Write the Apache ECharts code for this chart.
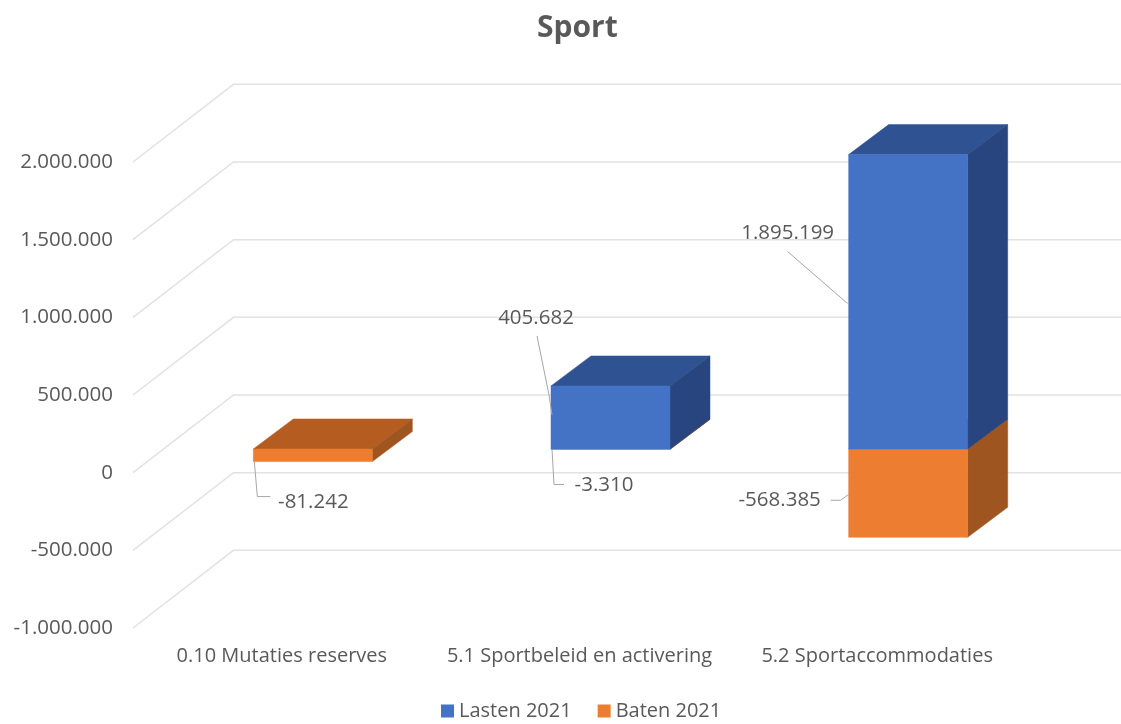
<!DOCTYPE html>
<html>
<head>
<meta charset="utf-8">
<title>Sport</title>
<script src="https://cdn.jsdelivr.net/npm/echarts@6/dist/echarts.min.js"></script>
<style>
  html, body { margin: 0; padding: 0; background: #fff; }
  #chartBox { width: 1121px; height: 724px; }
</style>
</head>
<body>
<div id="chartBox"></div>
<script>
const categories = ["0.10 Mutaties reserves", "5.1 Sportbeleid en activering", "5.2 Sportaccommodaties"];
const lasten = [0, 405682, 1895199];
const baten = [-81242, -3310, -568385];
const yTicks = [-1000000, -500000, 0, 500000, 1000000, 1500000, 2000000];

// fake 3d: where the back wall sits, where the bars sit in depth, how deep they are
const wallShift = [100.5, -77.7];
const barShift = [31, -23.7];
const barDepth = [40, -30];
const barWidth = 119;

// text centre and leader points, relative to the bar's left edge at its value
const lastenLabels = [
  null,
  { text: [-15, -68], line: [[-14, -50], [-2, 9], [1, 29]] },
  { text: [-61, 79], line: [[-61, 97], [-1, 149]] },
];
const batenLabels = [
  { text: [60, 41], line: [[1, 0], [4, 35], [17, 35]] },
  { text: [53, 36], line: [[1, 0], [3, 35], [13, 35]] },
  { text: [-69, -37], line: [[-18, -37], [-8, -37], [0, -43]] },
];

const textColor = "#595959";
const fontFamily = "'Open Sans', sans-serif";

function formatNumber(v) {
  const s = String(Math.abs(v)).replace(/\B(?=(\d{3})+$)/g, ".");
  return v < 0 ? "-" + s : s;
}

function poly(points, fill) {
  return { type: "polygon", shape: { points }, style: { fill, stroke: fill, lineWidth: 0.5 } };
}

function barRenderer(colors, labels) {
  return function (params, api) {
    const cat = api.value(0);
    const val = api.value(1);
    if (!val) return { type: "group", children: [] };
    const end = api.coord([cat, val]);
    const zero = api.coord([cat, 0]);
    const x0 = end[0] + barShift[0] - barWidth / 2;
    const x1 = x0 + barWidth;
    const yEnd = end[1] + barShift[1];
    const yZero = zero[1] + barShift[1];
    const yTop = Math.min(yEnd, yZero);
    const yBot = Math.max(yEnd, yZero);
    const dx = barDepth[0];
    const dy = barDepth[1];
    const children = [
      poly([[x0, yTop], [x0 + dx, yTop + dy], [x1 + dx, yTop + dy], [x1, yTop]], colors.top),
      poly([[x1, yTop], [x1 + dx, yTop + dy], [x1 + dx, yBot + dy], [x1, yBot]], colors.side),
      poly([[x0, yTop], [x1, yTop], [x1, yBot], [x0, yBot]], colors.front),
    ];
    const lab = labels[params.dataIndex];
    if (lab) {
      children.push({
        type: "polyline",
        shape: { points: lab.line.map((p) => [x0 + p[0], yEnd + p[1]]) },
        style: { fill: null, stroke: "#a6a6a6", lineWidth: 1 },
        z2: 5,
      });
      children.push({
        type: "text",
        x: x0 + lab.text[0],
        y: yEnd + lab.text[1],
        style: {
          text: formatNumber(val),
          fill: textColor,
          fontFamily,
          fontSize: 20.5,
          align: "center",
          verticalAlign: "middle",
        },
        z2: 6,
      });
    }
    return { type: "group", children };
  };
}

function wallRenderer(params, api) {
  const p = api.coord([0, api.value(1)]);
  const left = params.coordSys.x;
  return {
    type: "polyline",
    shape: {
      points: [
        [left, p[1]],
        [left + wallShift[0], p[1] + wallShift[1]],
        [1121, p[1] + wallShift[1]],
      ],
    },
    style: { fill: null, stroke: "#e2e2e2", lineWidth: 1.5 },
  };
}

const myChart = echarts.init(document.getElementById("chartBox"));
const option = {
  animation: false,
  backgroundColor: "#fff",
  color: ["#4472c4", "#ed7d31"],
  title: {
    text: "Sport",
    left: 532,
    top: 8,
    textStyle: { color: textColor, fontFamily, fontSize: 30, fontWeight: "bold" },
  },
  legend: {
    data: ["Lasten 2021", "Baten 2021"],
    left: 436,
    top: 696,
    icon: "rect",
    itemWidth: 13,
    itemHeight: 13,
    itemGap: 26,
    textStyle: { color: textColor, fontFamily, fontSize: 20 },
  },
  grid: { left: 133, right: 95, top: 162, bottom: 96 },
  xAxis: {
    type: "category",
    data: categories,
    axisLine: { show: false },
    axisTick: { show: false },
    axisLabel: { color: textColor, fontFamily, fontSize: 20, margin: 18, interval: 0 },
  },
  yAxis: {
    type: "value",
    min: -1000000,
    max: 2000000,
    interval: 500000,
    axisLine: { show: false },
    axisTick: { show: false },
    splitLine: { show: false },
    axisLabel: { color: textColor, fontFamily, fontSize: 20.5, margin: 20, padding: [2, 0, 0, 0], formatter: formatNumber },
  },
  series: [
    {
      name: "wall",
      type: "custom",
      silent: true,
      clip: false,
      z: 1,
      data: yTicks.map((t) => [0, t]),
      encode: { x: 0, y: 1 },
      renderItem: wallRenderer,
    },
    {
      name: "Baten 2021",
      type: "custom",
      clip: false,
      z: 2,
      itemStyle: { color: "#ed7d31" },
      data: baten.map((v, i) => [i, v]),
      encode: { x: 0, y: 1 },
      renderItem: barRenderer({ front: "#ed7d31", top: "#b55d20", side: "#9f5520" }, batenLabels),
    },
    {
      name: "Lasten 2021",
      type: "custom",
      clip: false,
      z: 3,
      itemStyle: { color: "#4472c4" },
      data: lasten.map((v, i) => [i, v]),
      encode: { x: 0, y: 1 },
      renderItem: barRenderer({ front: "#4472c4", top: "#2f5292", side: "#284580" }, lastenLabels),
    },
  ],
};
myChart.setOption(option);
</script>
</body>
</html>
